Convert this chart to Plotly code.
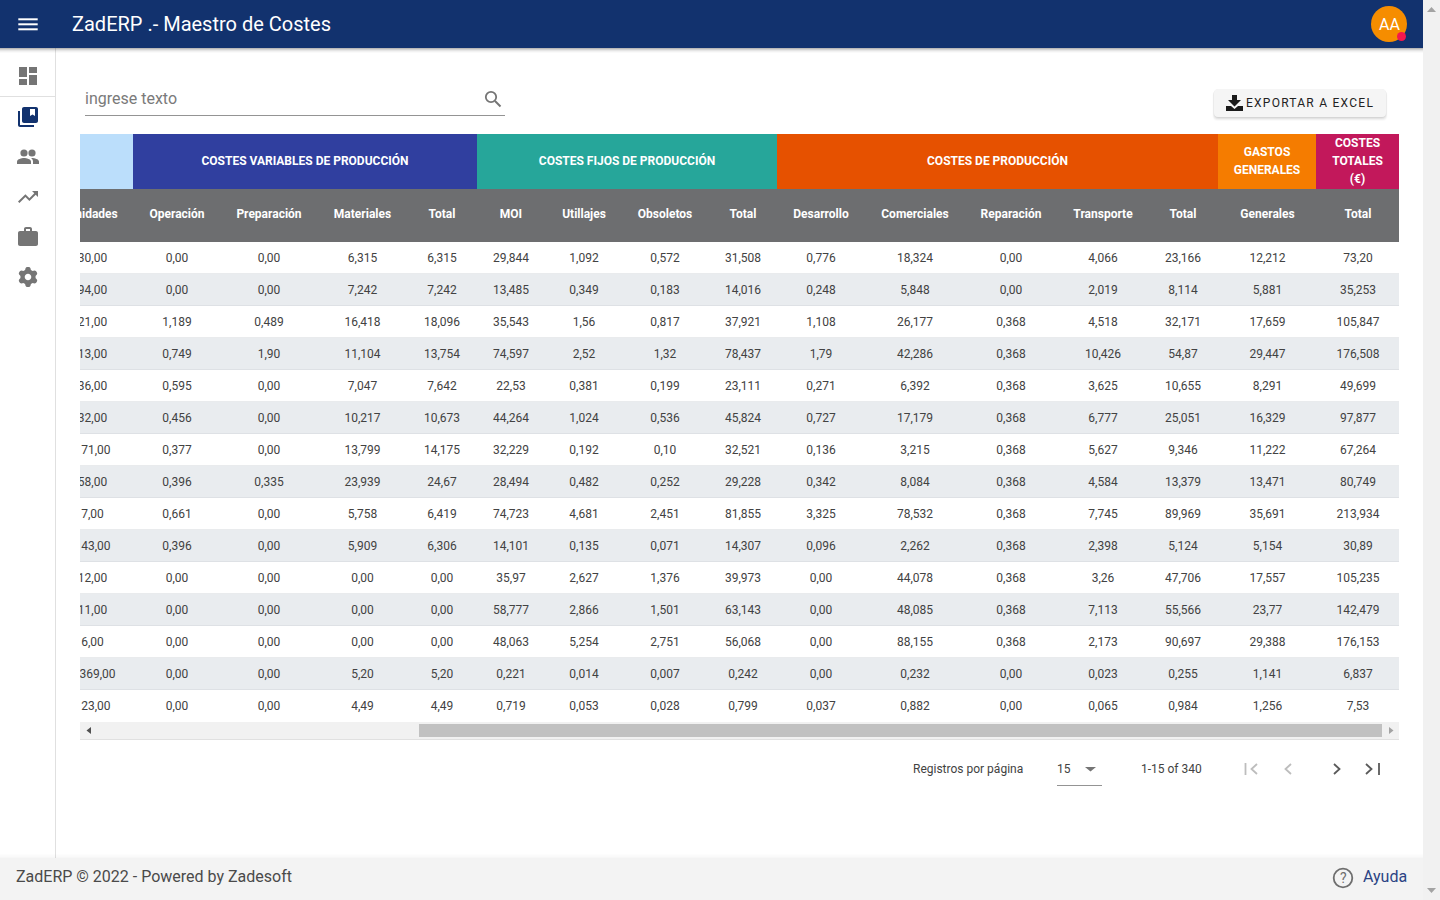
import math
import plotly.graph_objects as go

# ---------- data ----------
APP_TITLE = "ZadERP .- Maestro de Costes"
FOOTER = "ZadERP © 2022 - Powered by Zadesoft"
COLUMNS = ["Unidades", "Operación", "Preparación", "Materiales", "Total", "MOI", "Utillajes", "Obsoletos",
           "Total", "Desarrollo", "Comerciales", "Reparación", "Transporte", "Total", "Generales", "Total"]
BANDS = [[""], ["COSTES VARIABLES DE PRODUCCIÓN"], ["COSTES FIJOS DE PRODUCCIÓN"], ["COSTES DE PRODUCCIÓN"],
         ["GASTOS", "GENERALES"], ["COSTES", "TOTALES", "(€)"]]
BAND_SPANS = [1, 4, 4, 5, 1, 1]
BAND_COLORS = ["#bbdefb", "#303f9f", "#26a69a", "#e65100", "#f57c00", "#c2185b"]

unidades = ["30,00", "94,00", "21,00", "13,00", "36,00", "32,00", "171,00", "58,00", "7,00", "143,00",
            "12,00", "11,00", "6,00", "1.369,00", "123,00"]
operacion = ["0,00", "0,00", "1,189", "0,749", "0,595", "0,456", "0,377", "0,396", "0,661", "0,396",
             "0,00", "0,00", "0,00", "0,00", "0,00"]
preparacion = ["0,00", "0,00", "0,489", "1,90", "0,00", "0,00", "0,00", "0,335", "0,00", "0,00",
               "0,00", "0,00", "0,00", "0,00", "0,00"]
materiales = ["6,315", "7,242", "16,418", "11,104", "7,047", "10,217", "13,799", "23,939", "5,758", "5,909",
              "0,00", "0,00", "0,00", "5,20", "4,49"]
total_var = ["6,315", "7,242", "18,096", "13,754", "7,642", "10,673", "14,175", "24,67", "6,419", "6,306",
             "0,00", "0,00", "0,00", "5,20", "4,49"]
moi = ["29,844", "13,485", "35,543", "74,597", "22,53", "44,264", "32,229", "28,494", "74,723", "14,101",
       "35,97", "58,777", "48,063", "0,221", "0,719"]
utillajes = ["1,092", "0,349", "1,56", "2,52", "0,381", "1,024", "0,192", "0,482", "4,681", "0,135",
             "2,627", "2,866", "5,254", "0,014", "0,053"]
obsoletos = ["0,572", "0,183", "0,817", "1,32", "0,199", "0,536", "0,10", "0,252", "2,451", "0,071",
             "1,376", "1,501", "2,751", "0,007", "0,028"]
total_fij = ["31,508", "14,016", "37,921", "78,437", "23,111", "45,824", "32,521", "29,228", "81,855", "14,307",
             "39,973", "63,143", "56,068", "0,242", "0,799"]
desarrollo = ["0,776", "0,248", "1,108", "1,79", "0,271", "0,727", "0,136", "0,342", "3,325", "0,096",
              "0,00", "0,00", "0,00", "0,00", "0,037"]
comerciales = ["18,324", "5,848", "26,177", "42,286", "6,392", "17,179", "3,215", "8,084", "78,532", "2,262",
               "44,078", "48,085", "88,155", "0,232", "0,882"]
reparacion = ["0,00", "0,00", "0,368", "0,368", "0,368", "0,368", "0,368", "0,368", "0,368", "0,368",
              "0,368", "0,368", "0,368", "0,00", "0,00"]
transporte = ["4,066", "2,019", "4,518", "10,426", "3,625", "6,777", "5,627", "4,584", "7,745", "2,398",
              "3,26", "7,113", "2,173", "0,023", "0,065"]
total_prod = ["23,166", "8,114", "32,171", "54,87", "10,655", "25,051", "9,346", "13,379", "89,969", "5,124",
              "47,706", "55,566", "90,697", "0,255", "0,984"]
generales = ["12,212", "5,881", "17,659", "29,447", "8,291", "16,329", "11,222", "13,471", "35,691", "5,154",
             "17,557", "23,77", "29,388", "1,141", "1,256"]
total_cost = ["73,20", "35,253", "105,847", "176,508", "49,699", "97,877", "67,264", "80,749", "213,934", "30,89",
              "105,235", "142,479", "176,153", "6,837", "7,53"]
TABLE = [unidades, operacion, preparacion, materiales, total_var, moi, utillajes, obsoletos, total_fij,
         desarrollo, comerciales, reparacion, transporte, total_prod, generales, total_cost]

# ---------- layout constants ----------
W, H = 1440, 900
COL_WIDTHS = [81, 88, 96, 91, 69, 68, 78, 84, 70, 88, 100, 92, 92, 69, 98, 83]
COL_NUDGE = [0, 0, 0, 0, -0.5, 0, 0, 0, 1, 0, 0, 0, 0, -0.5, 0.5, 0.5]
TABLE_SCROLL_LEFT = 52          # the table is scrolled horizontally; x of its hidden left edge
VIEW_L, VIEW_R = 80, 1399
TOP_BAND, TOP_HEAD, TOP_ROWS, ROW_H = 134, 189, 242, 32
N_ROWS = len(unidades)
BOTTOM = TOP_ROWS + ROW_H * N_ROWS
TEXT_DY = 1 / ROW_H             # text baseline correction, one pixel

edges = [TABLE_SCROLL_LEFT]
for w_ in COL_WIDTHS:
    edges.append(edges[-1] + w_)
centers = [(a + b) / 2 + n for a, b, n in zip(edges[:-1], edges[1:], COL_NUDGE)]


def row_y(px):
    """Page pixel height -> row coordinate on the table's y axis."""
    return (px - TOP_ROWS) / ROW_H - 0.5


FONT = "Roboto, Arial, sans-serif"
NAVY = "#12326e"
GREY = "#757575"
CELL = "#424242"

shapes, annos = [], []


def rect(x0, y0, x1, y1, fill, **kw):
    shapes.append(dict(type="rect", xref="x", yref="y", x0=x0, y0=y0, x1=x1, y1=y1,
                       fillcolor=fill, line=dict(width=0), layer="below", **kw))


def path(d, fill=None, line=None, width=0, **kw):
    shapes.append(dict(type="path", xref="x", yref="y", path=d, fillcolor=fill or "rgba(0,0,0,0)",
                       line=dict(color=line or "rgba(0,0,0,0)", width=width), layer="below", **kw))


def rrect(x0, y0, x1, y1, r, fill):
    path(f"M{x0 + r},{y0} L{x1 - r},{y0} Q{x1},{y0} {x1},{y0 + r} L{x1},{y1 - r} Q{x1},{y1} {x1 - r},{y1} "
         f"L{x0 + r},{y1} Q{x0},{y1} {x0},{y1 - r} L{x0},{y0 + r} Q{x0},{y0} {x0 + r},{y0} Z", fill=fill)


def circle(cx, cy, r, fill=None, line=None, width=0):
    shapes.append(dict(type="circle", xref="x", yref="y", x0=cx - r, y0=cy - r, x1=cx + r, y1=cy + r,
                       fillcolor=fill or "rgba(0,0,0,0)",
                       line=dict(color=line or "rgba(0,0,0,0)", width=width), layer="below"))


def text(x, y, s, size=12, color=CELL, anchor="left", weight=400):
    annos.append(dict(xref="x", yref="y", x=x, y=y, text=s, showarrow=False, xanchor=anchor, yanchor="middle",
                      font=dict(family=FONT, size=size, color=color, weight=weight), borderpad=0, borderwidth=0))


def icon(cmds, ox, oy):
    """Translate an icon given as (command, x, y, ...) tuples in 24-unit space."""
    out = []
    for c in cmds:
        out.append(c[0])
        nums = c[1:]
        out.append(" ".join(f"{n + (ox if i % 2 == 0 else oy):.2f}" for i, n in enumerate(nums)))
    return " ".join(out) + " Z"


# ---------- page chrome ----------
# sidebar rules
rect(55, 48, 56, 858, "#e0e0e0")
rect(0, 96, 55, 97, "#e0e0e0")
# top bar & shadow
for i, a in enumerate([0.28, 0.18, 0.10, 0.05, 0.02]):
    rect(0, 48 + i, 1423, 49 + i, f"rgba(0,0,0,{a})")
rect(0, 0, 1423, 48, NAVY)
for yy in (18.3, 23.3, 28.3):
    rect(18.3, yy, 37.7, yy + 2, "#ffffff")
text(72, 24, APP_TITLE, size=20, color="#ffffff", weight=400)
circle(1389, 24, 18, fill="#f68d00")
text(1389, 24.5, "AA", size=16, color="#ffffff", anchor="center")
circle(1401.5, 36.5, 4.5, fill="#f5174d")

# sidebar icons
for c in [(19, 67, 27, 77), (19, 79, 27, 85), (29, 75, 37, 85), (29, 67, 37, 73)]:
    rect(*c, GREY)
# library
path("M20,111 H18 V125 C18,126.1 18.9,127 20,127 H34 V125 H20 Z", fill=NAVY)
path("M36,107 H24 C22.9,107 22,107.9 22,109 V121 C22,122.1 22.9,123 24,123 H36 C37.1,123 38,122.1 38,121 V109 "
     "C38,107.9 37.1,107 36,107 Z M35,116 L32.5,114.5 L30,116 V109 H35 Z", fill=NAVY, fillrule="evenodd")
# people
circle(24, 153, 3.6, fill=GREY)
circle(32, 153, 3.6, fill=GREY)
path(icon([("M", 8, 13), ("C", 5.67, 13, 1, 14.17, 1, 16.5), ("L", 1, 19), ("L", 15, 19), ("L", 15, 16.5),
           ("C", 15, 14.17, 10.33, 13, 8, 13)], 16, 145), fill=GREY)
path(icon([("M", 16, 13), ("C", 15.71, 13, 15.38, 13.02, 15.03, 13.05), ("C", 16.19, 13.89, 17, 15.02, 17, 16.5),
           ("L", 17, 19), ("L", 23, 19), ("L", 23, 16.5), ("C", 23, 14.17, 18.33, 13, 16, 13)], 16, 145), fill=GREY)
# trending up
path(icon([("M", 16, 6), ("L", 18.29, 8.29), ("L", 13.41, 13.17), ("L", 9.41, 9.17), ("L", 2, 16.59), ("L", 3.41, 18),
           ("L", 9.41, 12), ("L", 13.41, 16), ("L", 19.71, 9.71), ("L", 22, 12), ("L", 22, 6)], 16, 185), fill=GREY)
# briefcase
path("M36,231 H32 V229 C32,227.89 31.11,227 30,227 H26 C24.89,227 24,227.89 24,229 V231 H20 C18.89,231 18.01,231.89 "
     "18.01,233 L18,244 C18,245.11 18.89,246 20,246 H36 C37.11,246 38,245.11 38,244 V233 C38,231.89 37.11,231 36,231 Z "
     "M30,231 H26 V229 H30 Z", fill=GREY, fillrule="evenodd")
# gear
pts = []
for k in range(48):
    ang = 2 * math.pi * k / 48
    phase = (k % 8)
    r = 10 if phase in (0, 1, 7) else (9.2 if phase in (2, 6) else 7.6)
    pts.append((28 + r * math.sin(ang), 277 - r * math.cos(ang)))
gear = "M" + " L".join(f"{a:.2f},{b:.2f}" for a, b in pts) + " Z"
gear += " M31.3,277 C31.3,278.8 29.8,280.3 28,280.3 C26.2,280.3 24.7,278.8 24.7,277 C24.7,275.2 26.2,273.7 28,273.7 C29.8,273.7 31.3,275.2 31.3,277 Z"
path(gear, fill=GREY, fillrule="evenodd")

# search
text(85, 98.5, "ingrese texto", size=16, color="#7a7a7a", weight=400)
rect(85, 115, 505, 116, "#949494")
circle(491, 97, 5.2, line=GREY, width=1.8)
path("M495,101 L500.5,106.5", line=GREY, width=2)

# export button (letter-spacing below widens the text evenly around its box, hence the shifted anchor)
for i, a in enumerate([0.06, 0.05, 0.035, 0.02]):
    rrect(1214 - i * 0.5, 89 + i * 0.5, 1386 + i * 0.5, 118 + i, 5, f"rgba(0,0,0,{a})")
rrect(1214, 89, 1386, 117, 4, "#f5f5f5")
path("M1232,95 H1237 V100 H1241 L1234.5,106.5 L1228,100 H1232 Z", fill="#1a1a1a")
path("M1226,106 H1231 L1234.5,109 L1238,106 H1243 V111 H1226 Z", fill="#1a1a1a")
text(1256, 103, "EXPORTAR A EXCEL", size=12, color="#222222")

# horizontal scrollbar of the table
rect(VIEW_L, BOTTOM, VIEW_R, BOTTOM + 17, "#f1f1f1")
rect(VIEW_L, BOTTOM + 17, VIEW_R, BOTTOM + 18, "#e0e0e0")
rect(419, BOTTOM + 2, 1382, BOTTOM + 15, "#c1c1c1")
path("M91,727 L86.5,730.5 L91,734 Z", fill="#505050")
path("M1389,727 L1393.5,730.5 L1389,734 Z", fill="#a3a3a3")

# pagination
text(913, 769, "Registros por página", size=12, color=CELL)
text(1057, 769, "15", size=12, color=CELL)
path("M1085,767 H1096 L1090.5,771.5 Z", fill=GREY)
rect(1057, 785, 1102, 786, "#949494")
text(1141, 769, "1-15 of 340", size=12, color=CELL)
LIGHT, DARK = "#bdbdbd", "#5a5a5a"
path("M1245.5,763 V775", line=LIGHT, width=1.8)
path("M1257,764 L1251.5,769 L1257,774", line=LIGHT, width=1.8)
path("M1291,764 L1285.5,769 L1291,774", line=LIGHT, width=1.8)
path("M1334,764 L1339.5,769 L1334,774", line=DARK, width=1.8)
path("M1366,764 L1371.5,769 L1366,774", line=DARK, width=1.8)
path("M1379,763 V775", line=DARK, width=1.8)

# footer
for i, a in enumerate([0.008, 0.014, 0.02, 0.03]):
    rect(0, 854 + i, 1423, 855 + i, f"rgba(0,0,0,{a})")
rect(0, 858, 1423, 900, "#f3f3f3")
text(16, 876, FOOTER, size=16, color="#4a4a4a")
circle(1343, 878, 9.3, line="#6e6e6e", width=1.8)
text(1343, 878, "?", size=14, color="#6e6e6e", anchor="center")
text(1363, 876, "Ayuda", size=16, color="#2b4384")

# page scrollbar
rect(1423, 0, 1440, 900, "#f1f1f1")
path("M1427,12 L1431.5,7 L1436,12 Z", fill="#a3a3a3")
path("M1427,888 L1431.5,893 L1436,888 Z", fill="#a3a3a3")

# ---------- table backgrounds (clipped to the table viewport) ----------
def tshape(x0, x1, y0, y1, fill):
    shapes.append(dict(type="rect", xref="x2", yref="y2", x0=x0, x1=x1, y0=y0, y1=y1,
                       fillcolor=fill, line=dict(width=0), layer="below"))


start = 0
band_x, band_y, band_t = [], [], []
for span, color, lines in zip(BAND_SPANS, BAND_COLORS, BANDS):
    x0, x1 = edges[start], edges[start + span]
    tshape(x0, x1, row_y(TOP_BAND), row_y(TOP_HEAD), color)
    mid = (TOP_BAND + TOP_HEAD) / 2 - 0.5
    for j, line_ in enumerate(lines):
        if line_:
            band_x.append((x0 + x1) / 2)
            band_y.append(row_y(mid + (j - (len(lines) - 1) / 2) * 18) + TEXT_DY)
            band_t.append(line_)
    start += span
tshape(edges[0], edges[-1], row_y(TOP_HEAD), row_y(TOP_ROWS), "#6d6e70")
for r in range(N_ROWS):
    tshape(edges[0], edges[-1], r - 0.5, r + 0.5, "#ffffff" if r % 2 == 0 else "#e9ecef")
    if r < N_ROWS - 1:
        shapes.append(dict(type="line", xref="x2", yref="y2", x0=edges[0], x1=edges[-1], y0=r + 0.5, y1=r + 0.5,
                           line=dict(color="#d3d6da", width=1), layer="below"))

# ---------- figure ----------
fig = go.Figure()
fig.add_trace(go.Scatter(
    x=[c for c, col in zip(centers, TABLE) for _ in col],
    y=[r + TEXT_DY for col in TABLE for r in range(len(col))],
    text=[v for col in TABLE for v in col],
    mode="text", textposition="middle center", cliponaxis=True, hoverinfo="skip",
    textfont=dict(family=FONT, size=12, color=CELL), xaxis="x2", yaxis="y2", name="celdas"))
fig.add_trace(go.Scatter(
    x=centers, y=[row_y(213.5) + TEXT_DY] * len(COLUMNS), text=COLUMNS,
    mode="text", textposition="middle center", cliponaxis=True, hoverinfo="skip",
    textfont=dict(family=FONT, size=12, color="#ffffff", weight=700), xaxis="x2", yaxis="y2", name="columnas"))
fig.add_trace(go.Scatter(
    x=band_x, y=band_y, text=band_t,
    mode="text", textposition="middle center", cliponaxis=True, hoverinfo="skip",
    textfont=dict(family=FONT, size=12, color="#ffffff", weight=700), xaxis="x2", yaxis="y2", name="grupos"))

hidden = dict(visible=False, showgrid=False, zeroline=False, fixedrange=True)
fig.update_layout(
    width=W, height=H, margin=dict(l=0, r=0, t=0, b=0), showlegend=False, hovermode=False,
    paper_bgcolor="#ffffff", plot_bgcolor="rgba(0,0,0,0)",
    xaxis=dict(range=[0, W], domain=[0, 1], anchor="y", **hidden),
    yaxis=dict(range=[H, 0], domain=[0, 1], anchor="x", **hidden),
    xaxis2=dict(range=[VIEW_L, VIEW_R], domain=[VIEW_L / W, VIEW_R / W], anchor="y2", **hidden),
    yaxis2=dict(range=[row_y(BOTTOM), row_y(TOP_BAND)], domain=[1 - BOTTOM / H, 1 - TOP_BAND / H], anchor="x2", **hidden),
    shapes=shapes, annotations=annos,
)

POST = """
document.documentElement.style.overflow='hidden';
document.body.style.margin='0';
document.body.style.overflow='hidden';
document.querySelectorAll('.annotation-text').forEach(function(t){
  if(t.textContent==='EXPORTAR A EXCEL'){t.style.letterSpacing='1.25px';}
});
"""
fig.write_html("out.html", config=dict(displayModeBar=False, staticPlot=True), post_script=POST)
